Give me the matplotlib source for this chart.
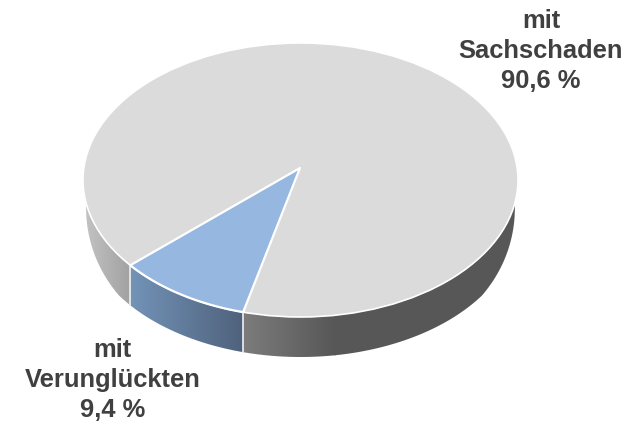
import numpy as np
import matplotlib
matplotlib.use('Agg')
import matplotlib.pyplot as plt
from matplotlib.patches import Polygon, Ellipse
from matplotlib.colors import LinearSegmentedColormap

labels = ['mit\nSachschaden\n90,6 %', 'mit\nVerunglückten\n9,4 %']
shares = [90.6, 9.4]
top_colors = ['#dbdbdb', '#95b7e0']

cx, cy, rx, ry = 300.5, 180, 217.5, 137
apex = (300, 168)
depth = 40
start = 218.5
stretch = 1.07   # perspective widens the front slice
s0 = 0.168       # side wall only shows below this height on the rim


def rim(a0, a1, n=160):
    t = np.radians(np.linspace(a0, a1, n))
    return cx + rx*np.cos(t), cy - ry*np.sin(t)


def wall_depth(a):
    s = np.abs(np.sin(np.radians(a)))
    return depth*np.clip((s-s0)/(0.55-s0), 0, 1)**0.3


def wall(ax, a0, a1, c0, c1, x0, x1):
    x, y = rim(a0, a1)
    d = wall_depth(np.linspace(a0, a1, len(x)))
    pts = np.r_[np.c_[x, y], np.c_[x, y+d][::-1]]
    cmap = LinearSegmentedColormap.from_list('w', [c0, c1])
    im = ax.imshow(np.linspace(0, 1, 256)[None, :], cmap=cmap, aspect='auto',
                   extent=(x0, x1, 420, 150), zorder=1, interpolation='bilinear')
    p = Polygon(pts, closed=True, fc='none', ec='none', transform=ax.transData)
    ax.add_patch(p)
    im.set_clip_path(p)


fig = plt.figure(figsize=(6.4, 4.22), dpi=100)
ax = fig.add_axes([0, 0, 1, 1])

end = start + shares[1]*3.6*stretch

wall(ax, 189.7, start, '#c4c4c4', '#a2a2a2', 83, 130)
wall(ax, start, end, '#7393b8', '#4f627c', 130, 243)
wall(ax, end, 279.5, '#7c7c7c', '#575757', 243, 336)
wall(ax, 279, 350.3, '#575757', '#575757', 330, 520)

# separators on the side wall
for a in (start, end):
    x, y = rim(a, a, 1)
    ax.plot([x[0], x[0]], [y[0], y[0]+wall_depth(a)], color='#eeeeee', lw=1.2, zorder=2)

ax.add_patch(Ellipse((cx, cy), 2*rx, 2*ry, fc=top_colors[0], ec='white', lw=1.2, zorder=3))
x, y = rim(start, end)
blue = np.r_[[apex], np.c_[x, y]]
ax.add_patch(Polygon(blue, closed=True, fc=top_colors[1], ec='white', lw=1.6, zorder=4, joinstyle='round'))

ax.text(541, 51, labels[0], ha='center', va='center', fontsize=18.4, fontweight='bold',
        family='Liberation Sans', color='#404040', linespacing=1.33, zorder=5)
ax.text(112.5, 380, labels[1], ha='center', va='center', fontsize=18.4, fontweight='bold',
        family='Liberation Sans', color='#404040', linespacing=1.33, zorder=5)

ax.set_xlim(0, 640)
ax.set_ylim(422, 0)
ax.axis('off')
fig.savefig('out.png', dpi=100, facecolor='white')
